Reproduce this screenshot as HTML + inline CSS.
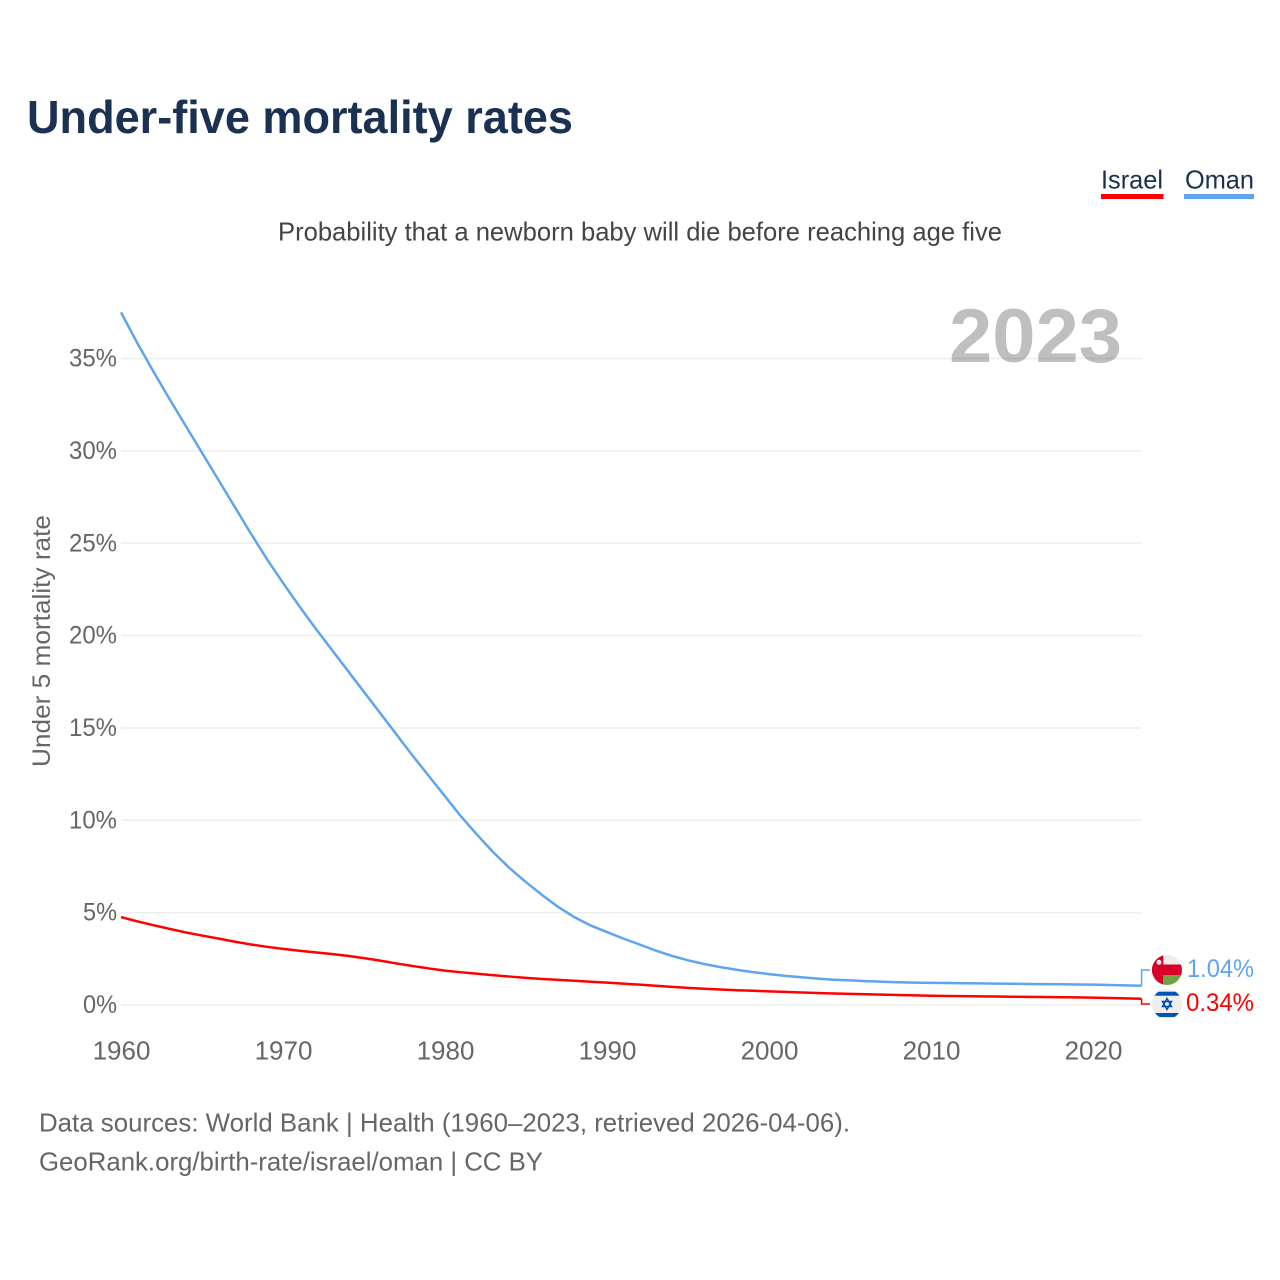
<!DOCTYPE html>
<html lang="en">
<head>
<meta charset="utf-8">
<title>Under-five mortality rates</title>
<style>
html,body{margin:0;padding:0;background:#fff;}
svg{display:block;font-family:"Liberation Sans",sans-serif;}
</style>
</head>
<body>
<svg id="chart" width="1280" height="1280" viewBox="0 0 1280 1280" xmlns="http://www.w3.org/2000/svg">
<defs>
<clipPath id="flag-clip-oman"><circle cx="1167" cy="970" r="15"/></clipPath>
<clipPath id="flag-clip-israel"><circle cx="1167" cy="1004" r="15"/></clipPath>
</defs>
<text x="27" y="133" font-size="46" font-weight="700" fill="#1a3152" textLength="546" lengthAdjust="spacingAndGlyphs">Under-five mortality rates</text>
<text x="1101" y="188.500" font-size="26" fill="#1a3152" textLength="62" lengthAdjust="spacingAndGlyphs">Israel</text>
<rect x="1101" y="194" width="62.500" height="5" fill="#ff0000"/>
<text x="1185" y="188.500" font-size="26" fill="#1a3152" textLength="69" lengthAdjust="spacingAndGlyphs">Oman</text>
<rect x="1184" y="194" width="70" height="5" fill="#5fa5ee"/>
<text x="278" y="240.500" font-size="26" fill="#444444" textLength="724" lengthAdjust="spacingAndGlyphs">Probability that a newborn baby will die before reaching age five</text>
<g id="grid"></g>
<g id="yticks"></g>
<g id="xticks"></g>
<text transform="translate(50,767) rotate(-90)" x="0" y="0" font-size="25" fill="#666666" textLength="252" lengthAdjust="spacingAndGlyphs">Under 5 mortality rate</text>
<text x="949" y="362" font-size="76" font-weight="700" fill="#000000" fill-opacity="0.25" textLength="173" lengthAdjust="spacingAndGlyphs">2023</text>
<g id="series"></g>
<g clip-path="url(#flag-clip-oman)">
<rect x="1152" y="955" width="30" height="30" fill="#eeeeee"/>
<rect x="1152" y="964.500" width="30" height="10.500" fill="#d80027"/>
<rect x="1152" y="955" width="11.300" height="30" fill="#d80027"/>
<rect x="1163.300" y="975" width="19" height="10" fill="#6da544"/>
<circle cx="1159" cy="962.300" r="2.500" fill="#eeeeee"/>
</g>
<g clip-path="url(#flag-clip-israel)">
<rect x="1152" y="989" width="30" height="30" fill="#eeeeee"/>
<rect x="1152" y="991.700" width="30" height="4" fill="#0052b4"/>
<rect x="1152" y="1013" width="30" height="4" fill="#0052b4"/>
<polygon points="1167,998.500 1171.500,1006.500 1162.500,1006.500" fill="none" stroke="#0052b4" stroke-width="1.500"/>
<polygon points="1167,1009.500 1171.500,1001.500 1162.500,1001.500" fill="none" stroke="#0052b4" stroke-width="1.500"/>
</g>
<text x="1187" y="977" font-size="25" fill="#5fa5ee" textLength="67" lengthAdjust="spacingAndGlyphs">1.04%</text>
<text x="1186" y="1011" font-size="25" fill="#ff0000" textLength="68" lengthAdjust="spacingAndGlyphs">0.34%</text>
<text x="39" y="1131.500" font-size="26" fill="#666666" textLength="811" lengthAdjust="spacingAndGlyphs">Data sources: World Bank | Health (1960–2023, retrieved 2026-04-06).</text>
<text x="39" y="1170.500" font-size="26" fill="#666666" textLength="504" lengthAdjust="spacingAndGlyphs">GeoRank.org/birth-rate/israel/oman | CC BY</text>
</svg>
<script>
const years = [1960,1961,1962,1963,1964,1965,1966,1967,1968,1969,1970,1971,1972,1973,1974,1975,1976,1977,1978,1979,1980,1981,1982,1983,1984,1985,1986,1987,1988,1989,1990,1991,1992,1993,1994,1995,1996,1997,1998,1999,2000,2001,2002,2003,2004,2005,2006,2007,2008,2009,2010,2011,2012,2013,2014,2015,2016,2017,2018,2019,2020,2021,2022,2023];
const omanRates = [37.5,35.85,34.3,32.8,31.35,29.9,28.45,27.0,25.55,24.15,22.85,21.6,20.4,19.25,18.1,16.95,15.8,14.65,13.5,12.4,11.3,10.2,9.2,8.25,7.4,6.65,5.95,5.3,4.75,4.3,3.95,3.6,3.28,2.95,2.66,2.42,2.22,2.05,1.91,1.78,1.67,1.58,1.5,1.43,1.37,1.33,1.29,1.26,1.23,1.21,1.2,1.19,1.18,1.17,1.16,1.15,1.14,1.13,1.12,1.11,1.1,1.08,1.06,1.04];
const israelRates = [4.76,4.53,4.32,4.12,3.93,3.76,3.6,3.43,3.28,3.15,3.04,2.94,2.85,2.76,2.66,2.54,2.4,2.25,2.11,1.98,1.86,1.77,1.69,1.61,1.54,1.47,1.41,1.36,1.31,1.26,1.21,1.16,1.1,1.04,0.98,0.93,0.88,0.84,0.8,0.77,0.74,0.71,0.68,0.65,0.62,0.6,0.58,0.56,0.54,0.52,0.5,0.49,0.48,0.47,0.46,0.45,0.44,0.43,0.42,0.41,0.4,0.38,0.36,0.34];
const yTickValues = [0,5,10,15,20,25,30,35];
const xTickValues = [1960,1970,1980,1990,2000,2010,2020];

const NS = 'http://www.w3.org/2000/svg';
const X0 = 121, XK = 16.2, Y0 = 1005, YK = 18.47, XEND = X0 + 63 * XK;
const xScale = function (yr) { return X0 + (yr - 1960) * XK; };
const yScale = function (v) { return Y0 - v * YK; };

function make(tag, parent, attrs, text) {
  const el = document.createElementNS(NS, tag);
  Object.keys(attrs).forEach(function (k) { el.setAttribute(k, attrs[k]); });
  if (text !== undefined) el.textContent = text;
  parent.appendChild(el);
  return el;
}

const grid = document.getElementById('grid');
const yt = document.getElementById('yticks');
const xt = document.getElementById('xticks');
const seriesLayer = document.getElementById('series');

yTickValues.forEach(function (v) {
  const y = yScale(v);
  const line = make('line', grid, {x1: X0, x2: XEND, y1: y, y2: y, stroke: '#eeeeee', 'stroke-width': 1.500});
  
  
  const label = v + '%';
  const tick = make('text', yt, {x: 117, y: y + 8, 'text-anchor': 'end', 'font-size': 25, fill: '#666666', textLength: label.length === 2 ? 34 : 48, lengthAdjust: 'spacingAndGlyphs'}, label);
  
  
});

xTickValues.forEach(function (yr) {
  const tick = make('text', xt, {x: xScale(yr) + 0.5, y: 1059.5, 'text-anchor': 'middle', 'font-size': 26, fill: '#666666'}, String(yr));
  
  
});

function pathFor(values) {
  return values.map(function (v, i) {
    return (i ? 'L' : 'M') + xScale(years[i]).toFixed(2) + ' ' + yScale(v).toFixed(2);
  }).join(' ');
}

const omanLine = make('path', seriesLayer, {d: pathFor(omanRates), fill: 'none', stroke: '#5fa5ee', 'stroke-width': 2.500, 'stroke-linejoin': 'round'});



const israelLine = make('path', seriesLayer, {d: pathFor(israelRates), fill: 'none', stroke: '#ff0000', 'stroke-width': 2.500, 'stroke-linejoin': 'round'});



const omanEnd = yScale(omanRates[omanRates.length - 1]);
const omanConnector = make('path', seriesLayer, {d: 'M' + XEND + ' ' + omanEnd + ' V970 H1150', fill: 'none', stroke: '#5fa5ee', 'stroke-width': 1.500});



const israelEnd = yScale(israelRates[israelRates.length - 1]);
const israelConnector = make('path', seriesLayer, {d: 'M' + XEND + ' ' + israelEnd + ' V1004 H1150', fill: 'none', stroke: '#ff0000', 'stroke-width': 1.500});


</script>
</body>
</html>
